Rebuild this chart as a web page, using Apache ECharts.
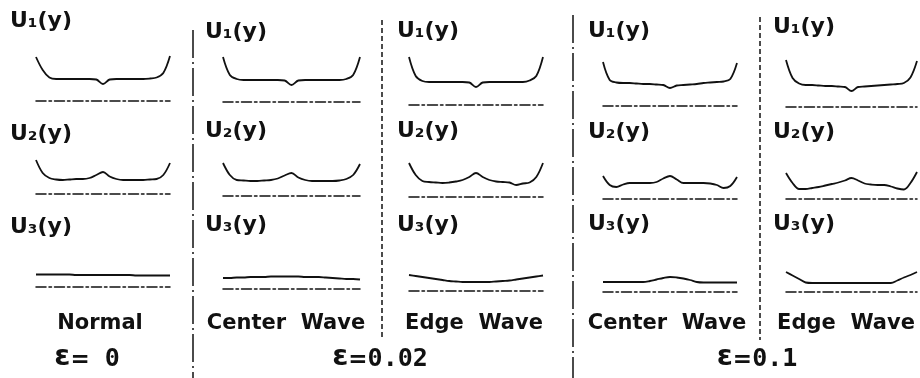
<!DOCTYPE html>
<html>
<head>
<meta charset="utf-8">
<script src="https://cdn.jsdelivr.net/npm/echarts@6/dist/echarts.min.js"></script>
<style>
  html, body { margin: 0; padding: 0; background: #ffffff; }
  #chart { width: 920px; height: 378px; }
</style>
</head>
<body>
<div id="chart"></div>
<script>
// Transverse coordinate y across the strip width (-1 = one edge, 1 = other edge)
const ySamples = [-1, -0.9, -0.8, -0.7, -0.6, -0.5, -0.4, -0.3, -0.2, -0.1, 0,
                  0.1, 0.2, 0.3, 0.4, 0.5, 0.6, 0.7, 0.8, 0.9, 1];

// Case headings
const caseNames = ['Normal', 'Center Wave', 'Edge Wave', 'Center Wave', 'Edge Wave'];
const epsilonValues = ['0', '0.02', '0.1'];
const modeNames = ['U₁(y)', 'U₂(y)', 'U₃(y)'];

// Mode shapes, height above the reference line
// ε = 0, normal
const normalU1 = [4.4, 3.1, 2.35, 2.2, 2.2, 2.2, 2.2, 2.2, 2.2, 2.15, 1.7, 2.15, 2.2, 2.2, 2.2, 2.2, 2.2, 2.25, 2.35, 2.8, 4.5];
const normalU2 = [3.4, 2.1, 1.6, 1.45, 1.4, 1.45, 1.5, 1.5, 1.6, 1.9, 2.2, 1.75, 1.5, 1.4, 1.4, 1.4, 1.4, 1.45, 1.5, 1.9, 3.1];
const normalU3 = [1.25, 1.25, 1.25, 1.25, 1.25, 1.25, 1.2, 1.2, 1.2, 1.2, 1.2, 1.2, 1.2, 1.2, 1.2, 1.15, 1.15, 1.15, 1.15, 1.15, 1.15];
// ε = 0.02, center wave
const center02U1 = [4.5, 2.7, 2.3, 2.2, 2.2, 2.2, 2.2, 2.2, 2.2, 2.15, 1.7, 2.15, 2.2, 2.2, 2.2, 2.2, 2.2, 2.2, 2.3, 2.7, 4.5];
const center02U2 = [3.3, 2.1, 1.6, 1.55, 1.5, 1.5, 1.55, 1.6, 1.75, 2.05, 2.3, 1.85, 1.6, 1.5, 1.5, 1.5, 1.5, 1.55, 1.7, 2.1, 3.2];
const center02U3 = [1.1, 1.1, 1.15, 1.15, 1.2, 1.2, 1.2, 1.25, 1.25, 1.25, 1.25, 1.25, 1.2, 1.2, 1.2, 1.15, 1.1, 1.05, 1.0, 1.0, 0.95];
// ε = 0.02, edge wave
const edge02U1 = [4.8, 2.9, 2.4, 2.3, 2.3, 2.3, 2.3, 2.3, 2.3, 2.25, 1.8, 2.25, 2.3, 2.3, 2.3, 2.3, 2.3, 2.3, 2.45, 2.9, 4.8];
const edge02U2 = [3.4, 2.2, 1.6, 1.5, 1.45, 1.4, 1.45, 1.55, 1.7, 2.0, 2.4, 2.0, 1.7, 1.55, 1.5, 1.45, 1.2, 1.35, 1.45, 2.0, 3.4];
const edge02U3 = [1.6, 1.5, 1.4, 1.3, 1.2, 1.1, 1.0, 0.95, 0.9, 0.9, 0.9, 0.9, 0.9, 0.95, 1.0, 1.05, 1.15, 1.25, 1.35, 1.45, 1.55];
// ε = 0.1, center wave
const center10U1 = [4.4, 2.6, 2.35, 2.3, 2.3, 2.25, 2.2, 2.2, 2.15, 2.1, 1.8, 2.05, 2.1, 2.15, 2.2, 2.3, 2.35, 2.4, 2.45, 2.7, 4.3];
const center10U2 = [2.3, 1.4, 1.2, 1.45, 1.6, 1.6, 1.6, 1.6, 1.7, 2.05, 2.3, 1.95, 1.6, 1.6, 1.6, 1.6, 1.55, 1.4, 1.1, 1.3, 2.2];
const center10U3 = [1.0, 1.0, 1.0, 1.0, 1.0, 1.0, 1.0, 1.1, 1.25, 1.4, 1.5, 1.45, 1.35, 1.2, 1.0, 0.95, 0.95, 0.95, 0.95, 0.95, 0.95];
// ε = 0.1, edge wave
const edge10U1 = [4.7, 2.9, 2.35, 2.2, 2.2, 2.15, 2.1, 2.1, 2.05, 2.0, 1.6, 2.0, 2.05, 2.1, 2.15, 2.2, 2.25, 2.3, 2.4, 2.95, 4.6];
const edge10U2 = [2.6, 1.6, 1.0, 1.0, 1.1, 1.2, 1.35, 1.5, 1.65, 1.85, 2.1, 1.85, 1.55, 1.45, 1.4, 1.4, 1.25, 1.05, 0.95, 1.6, 2.7];
const edge10U3 = [2.0, 1.65, 1.3, 0.95, 0.9, 0.9, 0.9, 0.9, 0.9, 0.9, 0.9, 0.9, 0.9, 0.9, 0.9, 0.9, 0.9, 1.15, 1.45, 1.7, 2.0];

// rows = modes, columns = cases
const shapes = [
  [normalU1, center02U1, edge02U1, center10U1, edge10U1],
  [normalU2, center02U2, edge02U2, center10U2, edge10U2],
  [normalU3, center02U3, edge02U3, center10U3, edge10U3]
];

// ---- layout (pixels) ----
const colLeft = [36, 223, 409, 603, 786];
const colWidth = [134, 137, 134, 134, 131];
const rowBaseline = [
  [101, 102, 105, 106, 107],
  [194, 196, 197, 199, 199],
  [287, 289, 291, 292, 292]
];
const panelHeight = 50;          // pixels spanning 0..yMax
const yMax = 5;
const labelX = [10, 205, 397, 588, 773];
const labelY = [
  [21, 32, 31, 31, 27],
  [134, 131, 131, 132, 132],
  [227, 225, 225, 224, 224]
];
const caseX = [100, 286, 474, 667, 846];
const caseY = 324;
const epsX = [87, 380, 757];
const epsY = 358;

const INK = '#111111';
const FAMILY = '"DejaVu Sans", "Liberation Sans", sans-serif';
const MONO = '"DejaVu Sans Mono", "Liberation Mono", monospace';

const grids = [], xAxes = [], yAxes = [], series = [];
let idx = 0;
for (let r = 0; r < 3; r++) {
  for (let c = 0; c < 5; c++) {
    const base = rowBaseline[r][c];
    grids.push({
      left: colLeft[c], width: colWidth[c],
      top: base - panelHeight, height: panelHeight,
      containLabel: false
    });
    xAxes.push({
      type: 'value', gridIndex: idx, min: -1, max: 1,
      axisLine: { show: true, onZero: false,
        lineStyle: { color: INK, width: 1.5, type: [10, 3, 2.5, 3] } },
      axisTick: { show: false }, axisLabel: { show: false }, splitLine: { show: false }
    });
    yAxes.push({
      type: 'value', gridIndex: idx, min: 0, max: yMax, show: false,
      splitLine: { show: false }
    });
    series.push({
      type: 'line', xAxisIndex: idx, yAxisIndex: idx,
      data: ySamples.map((y, i) => [y, shapes[r][c][i]]),
      showSymbol: false, smooth: 0.35,
      lineStyle: { color: INK, width: 1.8 },
      silent: true, clip: false
    });
    idx++;
  }
}

const graphics = [];
// mode labels
for (let r = 0; r < 3; r++) {
  for (let c = 0; c < 5; c++) {
    graphics.push({
      type: 'text', x: labelX[c], y: labelY[r][c],
      style: {
        text: modeNames[r], fill: INK,
        fontSize: 22, fontWeight: 'bold', fontFamily: FAMILY,
        textAlign: 'left', textVerticalAlign: 'middle',
        align: 'left', verticalAlign: 'middle'
      }
    });
  }
}
// case names
caseNames.forEach((name, c) => {
  graphics.push({
    type: 'text', x: caseX[c], y: caseY,
    style: {
      text: name.replace(' ', '  '), fill: INK,
      fontSize: 21, fontWeight: 'bold', fontFamily: FAMILY,
      textAlign: 'center', textVerticalAlign: 'middle',
      align: 'center', verticalAlign: 'middle'
    }
  });
});
// strain levels
epsilonValues.forEach((v, k) => {
  graphics.push({
    type: 'text', x: epsX[k], y: epsY,
    style: {
      text: '{e|ε}{q|=}{n|' + (k === 0 ? ' ' : '') + v + '}',
      fill: INK,
      textAlign: 'center', textVerticalAlign: 'middle',
      align: 'center', verticalAlign: 'middle',
      rich: {
        e: { fontSize: 29, fontWeight: 'bold', fontFamily: FAMILY, fill: INK,
             verticalAlign: 'bottom', lineHeight: 27 },
        q: { fontSize: 23, fontWeight: 'bold', fontFamily: FAMILY, fill: INK,
             verticalAlign: 'bottom', lineHeight: 27 },
        n: { fontSize: 25, fontWeight: 'bold', fontFamily: MONO, fill: INK,
             verticalAlign: 'bottom', lineHeight: 27 }
      }
    }
  });
});
// separators between cases
const separators = [
  { x: 193, y1: 30, y2: 378, dash: [28, 4, 2, 4] },
  { x: 382, y1: 20, y2: 338, dash: [5, 3] },
  { x: 573, y1: 15, y2: 378, dash: [28, 4, 2, 4] },
  { x: 760, y1: 17, y2: 340, dash: [5, 3] }
];
separators.forEach(s => {
  graphics.push({
    type: 'line', shape: { x1: s.x, y1: s.y1, x2: s.x, y2: s.y2 },
    style: { stroke: INK, lineWidth: 1.5, lineDash: s.dash }
  });
});

const chart = echarts.init(document.getElementById('chart'), null, { renderer: 'canvas' });
chart.setOption({
  animation: false,
  backgroundColor: '#ffffff',
  grid: grids,
  xAxis: xAxes,
  yAxis: yAxes,
  series: series,
  graphic: graphics
});
</script>
</body>
</html>
